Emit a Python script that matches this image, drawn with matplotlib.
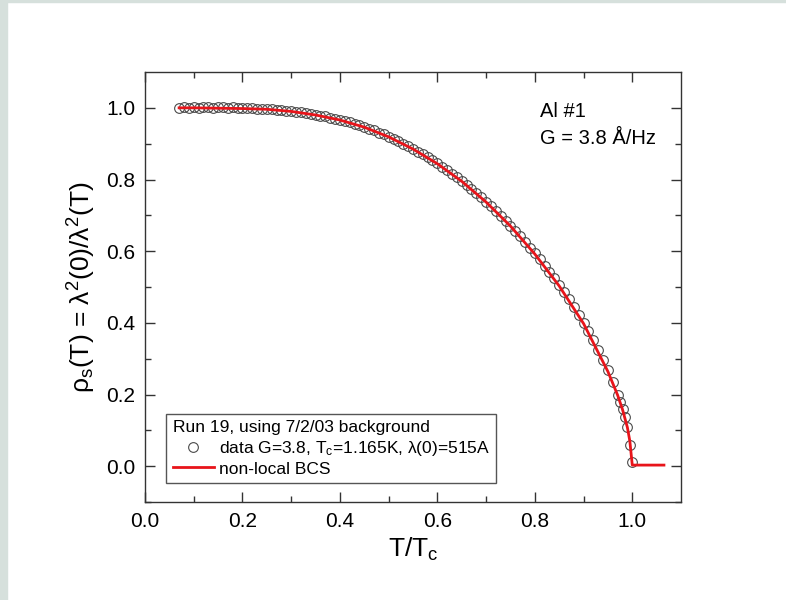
import matplotlib
matplotlib.use("Agg")
import matplotlib.pyplot as plt
from matplotlib.patches import Rectangle

# ─── DATA ──────────────────────────────────────────────────────────────────────

t_data = [0.07, 0.08, 0.09, 0.10, 0.11, 0.12, 0.13, 0.14, 0.15, 0.16,
          0.17, 0.18, 0.19, 0.20, 0.21, 0.22, 0.23, 0.24, 0.25, 0.26,
          0.27, 0.28, 0.29, 0.30, 0.31, 0.32, 0.33, 0.34, 0.35, 0.36,
          0.37, 0.38, 0.39, 0.40, 0.41, 0.42, 0.43, 0.44, 0.45, 0.46,
          0.47, 0.48, 0.49, 0.50, 0.51, 0.52, 0.53, 0.54, 0.55, 0.56,
          0.57, 0.58, 0.59, 0.60, 0.61, 0.62, 0.63, 0.64, 0.65, 0.66,
          0.67, 0.68, 0.69, 0.70, 0.71, 0.72, 0.73, 0.74, 0.75, 0.76,
          0.77, 0.78, 0.79, 0.80, 0.81, 0.82, 0.83, 0.84, 0.85, 0.86,
          0.87, 0.88, 0.89, 0.90, 0.91, 0.92, 0.93, 0.94, 0.95, 0.96,
          0.97, 0.975, 0.98, 0.985, 0.99, 0.995, 1.000]
rho_data = [1.000, 1.001, 1.000, 1.001, 1.000, 1.002, 1.001, 1.000, 1.001, 1.002,
            1.000, 1.001, 1.000, 1.000, 0.999, 1.000, 0.998, 0.998, 0.997, 0.996,
            0.995, 0.994, 0.992, 0.991, 0.989, 0.987, 0.985, 0.983, 0.981, 0.978,
            0.976, 0.973, 0.970, 0.967, 0.963, 0.960, 0.956, 0.951, 0.947, 0.942,
            0.937, 0.931, 0.926, 0.920, 0.913, 0.907, 0.900, 0.893, 0.886, 0.878,
            0.870, 0.862, 0.854, 0.845, 0.836, 0.826, 0.816, 0.806, 0.796, 0.785,
            0.774, 0.762, 0.750, 0.738, 0.725, 0.712, 0.699, 0.685, 0.671, 0.656,
            0.641, 0.626, 0.610, 0.594, 0.577, 0.560, 0.542, 0.524, 0.505, 0.486,
            0.466, 0.445, 0.423, 0.400, 0.376, 0.351, 0.325, 0.297, 0.267, 0.235,
            0.200, 0.180, 0.160, 0.137, 0.110, 0.060, 0.012]

# non-local BCS curve
t_bcs = [0.07, 0.10, 0.15, 0.20, 0.25, 0.30, 0.35, 0.40, 0.45, 0.50,
         0.55, 0.60, 0.65, 0.70, 0.75, 0.80, 0.85, 0.90, 0.95, 0.97,
         0.98, 0.99, 0.995, 1.00, 1.065]
rho_bcs = [1.000, 1.000, 0.999, 0.998, 0.996, 0.990, 0.980, 0.966, 0.946, 0.919,
           0.885, 0.844, 0.795, 0.737, 0.670, 0.592, 0.503, 0.398, 0.264, 0.198,
           0.158, 0.108, 0.070, 0.003, 0.003]

legend_title = "Run 19, using 7/2/03 background"
data_label = "data G=3.8, T$_\\mathrm{c}$=1.165K, λ(0)=515A"
bcs_label = "non-local BCS"
note = "Al #1\nG = 3.8 Å/Hz"

# ─── STYLE ─────────────────────────────────────────────────────────────────────

plt.rcParams['font.family'] = ['Liberation Sans', 'DejaVu Sans']
plt.rcParams['mathtext.fontset'] = 'custom'
plt.rcParams['mathtext.rm'] = 'Liberation Sans'
plt.rcParams['mathtext.it'] = 'Liberation Sans'

fig = plt.figure(figsize=(7.86, 6.0), dpi=100)
ax = fig.add_axes([145 / 786, 1 - 502 / 600, 536 / 786, 430 / 600])

# grey page edge on the left and top
fig.patches.append(Rectangle((0, 0), 7 / 786, 1, transform=fig.transFigure,
                             color='#d6e0dc', zorder=-1))
fig.patches.append(Rectangle((0, 1 - 2 / 600), 1, 2 / 600, transform=fig.transFigure,
                             color='#d6e0dc', zorder=-1))

# ─── PLOT ──────────────────────────────────────────────────────────────────────

ax.plot(t_data, rho_data, 'o', ms=7, mfc='none', mec='#4a4a4a', mew=0.8,
        label=data_label, zorder=2)
ax.plot(t_bcs, rho_bcs, '-', color='#e8141a', lw=2, label=bcs_label, zorder=3)

ax.set_xlim(0, 1.1)
ax.set_ylim(-0.1, 1.1)
ax.set_xticks([0.0, 0.2, 0.4, 0.6, 0.8, 1.0])
ax.set_yticks([0.0, 0.2, 0.4, 0.6, 0.8, 1.0])
ax.set_xticks([0.1, 0.3, 0.5, 0.7, 0.9], minor=True)
ax.set_yticks([-0.1, 0.1, 0.3, 0.5, 0.7, 0.9], minor=True)
ax.tick_params(which='both', direction='in', top=True, right=True,
               labelsize=15, color='#333333', pad=7)
ax.tick_params(which='major', length=7, width=1)
ax.tick_params(which='minor', length=4, width=1)
for s in ax.spines.values():
    s.set_color('#333333')
    s.set_linewidth(1)

ax.set_xlabel("T/T$_\\mathrm{c}$", fontsize=19, labelpad=4)
ax.set_ylabel("ρ$_\\mathrm{s}$(T) = λ$^\\mathrm{2}$(0)/λ$^\\mathrm{2}$(T)", fontsize=19, labelpad=6)

ax.text(0.737, 0.93, note, transform=ax.transAxes, fontsize=14.5,
        va='top', ha='left', linespacing=1.55)

leg = ax.legend(title=legend_title, loc='lower left', bbox_to_anchor=(0.04, 0.045),
                borderaxespad=0, fontsize=12.5, title_fontsize=12.5, fancybox=False,
                edgecolor='#555555', framealpha=1, handlelength=2.4,
                handletextpad=0.25, borderpad=0.35, labelspacing=0.2)
leg._legend_box.align = "left"
leg.get_frame().set_linewidth(1)

fig.savefig("out.png", dpi=100)
